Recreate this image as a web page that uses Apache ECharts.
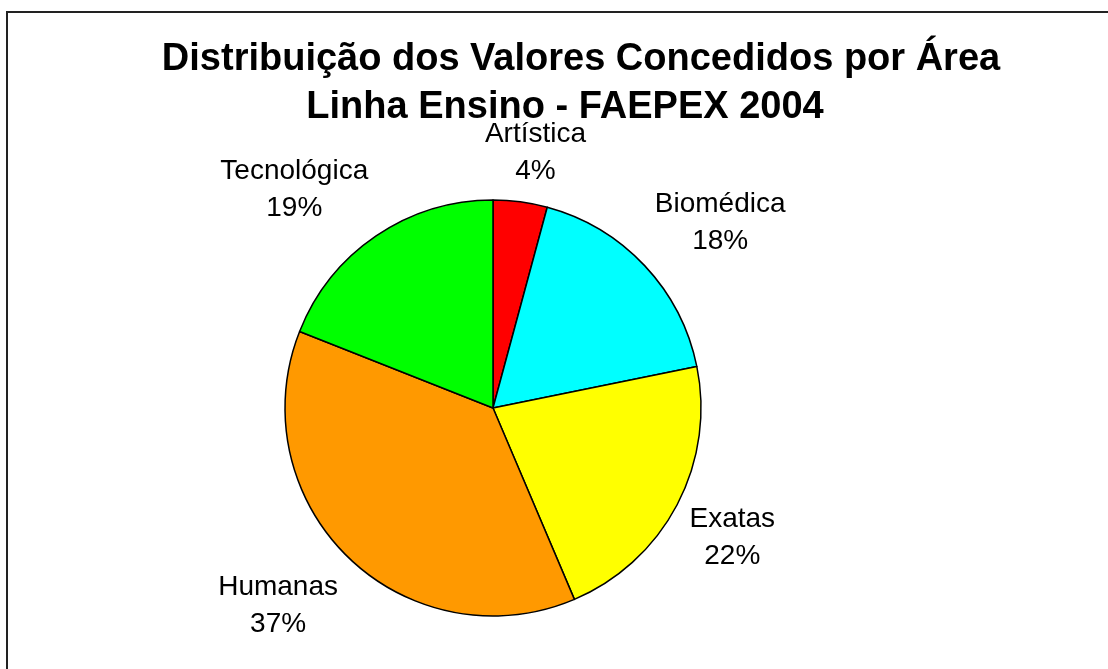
<!DOCTYPE html>
<html>
<head>
<meta charset="utf-8">
<script src="https://cdn.jsdelivr.net/npm/echarts@6/dist/echarts.min.js"></script>
<style>
  html, body { margin: 0; padding: 0; background: #fff; }
  #chart { width: 1108px; height: 669px; }
</style>
</head>
<body>
<div id="chart"></div>
<script>
const categories = ["Artística", "Biomédica", "Exatas", "Humanas", "Tecnológica"];
const values = [4.2, 17.6, 21.8, 37.4, 19.0];
const colors = ["#ff0000", "#00ffff", "#ffff00", "#ff9900", "#00ff00"];
const titleLines = ["Distribuição dos Valores Concedidos por Área", "Linha Ensino - FAEPEX 2004"];

const font = "'Liberation Sans', Arial, sans-serif";
const cx = 493, cy = 408, radius = 208;

// mid angle of each slice, clockwise from the top
const total = values.reduce((a, b) => a + b, 0);
let acc = 0;
const midAngles = values.map((v) => {
  const mid = (acc + v / 2) / total * Math.PI * 2;
  acc += v;
  return mid;
});

const clamp = (v) => Math.max(-1, Math.min(1, v));

var myChart = echarts.init(document.getElementById("chart"));
var option = {
  animation: false,
  backgroundColor: "#fff",
  graphic: [
    {
      type: "rect",
      shape: { x: 7, y: 12, width: 1300, height: 900 },
      style: { fill: null, stroke: "#222", lineWidth: 2 },
      silent: true,
    },
    {
      type: "text",
      x: 581,
      y: 60,
      style: {
        text: titleLines[0],
        font: "bold 38px " + font,
        fill: "#000",
        align: "center",
        verticalAlign: "middle",
      },
    },
    {
      type: "text",
      x: 565,
      y: 108,
      style: {
        text: titleLines[1],
        font: "bold 38px " + font,
        fill: "#000",
        align: "center",
        verticalAlign: "middle",
      },
    },
  ],
  series: [
    {
      type: "pie",
      center: [cx, cy],
      radius: radius,
      startAngle: 90,
      clockwise: true,
      silent: true,
      avoidLabelOverlap: false,
      itemStyle: { borderColor: "#000", borderWidth: 1.5 },
      label: {
        show: true,
        position: "outside",
        color: "#000",
        fontFamily: font,
        fontSize: 28,
        lineHeight: 37,
        formatter: (p) => p.name + "\n" + Math.round(p.percent) + "%",
      },
      labelLine: { show: false },
      labelLayout: (params) => {
        const a = midAngles[params.dataIndex];
        const ux = Math.sin(a), uy = -Math.cos(a);
        const w = params.labelRect.width, h = params.labelRect.height;
        const d = radius + 14;
        return {
          x: cx + d * ux + clamp(ux * 2) * w / 2,
          y: cy + d * uy + clamp(uy * 1.4) * h / 2 + 2,
          align: "center",
          verticalAlign: "middle",
        };
      },
      data: categories.map((name, i) => ({
        name: name,
        value: values[i],
        itemStyle: { color: colors[i] },
      })),
    },
  ],
};
myChart.setOption(option);
</script>
</body>
</html>
